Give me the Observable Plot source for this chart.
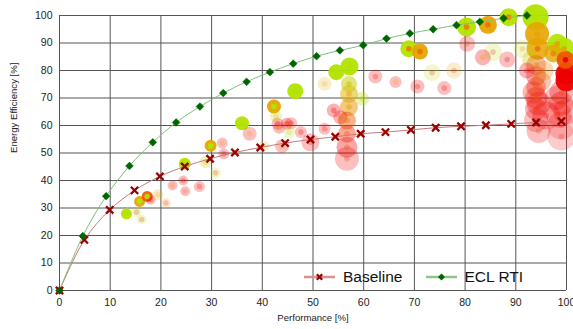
<!DOCTYPE html>
<html>
<head>
<meta charset="utf-8">
<script src="https://cdn.jsdelivr.net/npm/d3@7"></script>
<script src="https://cdn.jsdelivr.net/npm/@observablehq/plot@0.6"></script>
<style>
  html, body { margin: 0; padding: 0; background: #fff; }
  #wrap { position: relative; width: 573px; height: 329px; font-family: "Liberation Sans", Arial, sans-serif; }
  .leg { position: absolute; display: flex; align-items: center; font-size: 15.5px; color: #111; white-space: nowrap; }
</style>
</head>
<body>
<div id="wrap"></div>
<script>
// Baseline series
const baseX = [0, 4.9, 9.9, 14.8, 19.8, 24.7, 29.7, 34.6, 39.6, 44.5, 49.5, 54.4, 59.4, 64.3, 69.3, 74.2, 79.2, 84.1, 89.1, 94.0, 99.0];
const baseY = [0, 18.4, 29.3, 36.4, 41.5, 45.1, 47.9, 50.2, 52.0, 53.6, 54.9, 55.9, 57.0, 57.6, 58.4, 59.2, 59.7, 60.1, 60.6, 61.1, 61.6];
// ECL RTI series
const eclX = [0, 4.6, 9.2, 13.8, 18.4, 23.0, 27.7, 32.3, 36.9, 41.5, 46.1, 50.7, 55.3, 59.9, 64.5, 69.1, 73.7, 78.3, 82.9, 87.6, 92.2];
const eclY = [0, 19.8, 34.3, 45.3, 53.9, 61.1, 66.9, 71.8, 75.9, 79.4, 82.5, 85.2, 87.3, 89.2, 91.6, 93.5, 95.0, 96.5, 97.7, 99.0, 100];

// Bubbles: x, y, size, outer colour value (0 green .. 1 red), inner colour value, opacity
const bubX = [13.2, 15.2, 16.2, 15.8, 17.3, 18.0, 19.4, 21.0, 22.3, 24.4, 24.8, 27.6, 24.7, 29.8, 32.1, 28.8, 30.8, 32.4,
  46.5, 42.3, 36.0, 37.5, 42.7, 43.0, 44.8, 45.7, 43.3, 45.3, 47.6, 52.3, 49.5, 43.9, 40.3, 52.3,
  54.1, 55.4, 57.1, 59.7, 57.1, 57.1, 56.7, 56.7, 56.7, 56.7, 54.6, 57.2, 62.3, 66.3, 70.6, 75.9,
  68.9, 71.1, 80.3, 84.5, 88.6, 80.4, 83.5, 85.5, 88.3, 73.5, 77.8,
  94.0, 94.0, 94.0, 94.0, 94.0, 94.0, 93.0, 91.3, 92.2, 99.0, 99.0, 98.5, 96.0, 99.0,
  94.5, 93.5, 95.0, 94.5, 99.0, 100, 98.0, 95.5,
  93.9, 94.2, 94.3, 98.2, 99.5, 97.4, 99.8, 100, 100];
const bubY = [27.9, 28.5, 25.8, 32.4, 34.2, 33.0, 34.9, 31.8, 38.2, 40.0, 36.1, 37.8, 46.1, 52.6, 53.6, 46.7, 42.8, 49.7,
  72.5, 66.9, 60.8, 57.0, 63.3, 60.6, 60.6, 60.8, 59.2, 57.6, 57.6, 58.8, 53.9, 52.5, 52.5, 75.2,
  65.5, 63.0, 75.1, 69.7, 71.5, 66.7, 61.8, 57.0, 52.1, 47.9, 79.4, 81.5, 77.8, 75.8, 74.2, 73.6,
  87.9, 86.9, 95.8, 96.6, 99.4, 89.7, 84.8, 86.7, 84.0, 79.2, 80.0,
  82.0, 78.0, 74.0, 70.0, 66.0, 62.0, 84.0, 87.9, 80.0, 72.0, 68.0, 64.0, 63.6, 60.0,
  58.0, 72.0, 76.0, 68.0, 56.0, 65.0, 70.0, 80.0,
  99.4, 93.3, 87.9, 89.7, 87.9, 86.2, 83.9, 78.8, 76.4];
const bubS = [5.5, 5, 5, 5.5, 5.5, 5, 5.5, 5, 5, 5, 5, 5.5, 6, 6, 5.5, 6, 5.5, 5.5,
  8, 7, 7, 7, 6, 6, 6, 6, 6, 6, 6, 6, 9, 7, 5.5, 7,
  7, 7, 8, 7, 9, 9, 9, 9, 10.5, 12, 8, 9, 7, 6, 7, 7,
  8.5, 8, 9.5, 9, 9, 8, 8, 9, 8, 8.5, 8,
  10, 10, 10, 11, 11, 12, 9, 9, 8, 12, 12, 13, 14, 14,
  12, 11, 10, 12, 14, 13, 12, 10,
  13, 12, 11, 10, 11, 9, 9, 11, 11];
const bubC = [0, 0, 0, 0.5, 0.75, 1, 0.5, 0.5, 1, 1, 1, 1, 0, 0.5, 1, 0.25, 0, 1,
  0, 0.5, 0, 1, 0.2, 1, 1, 1, 1, 0, 1, 1, 1, 1, 0.5, 0.5,
  1, 1, 0.2, 0.1, 0.4, 0.55, 0.75, 0.9, 1, 1, 0, 0, 1, 1, 1, 1,
  0, 0.5, 0, 0.5, 0, 1, 1, 0.1, 1, 0.1, 0.5,
  0.9, 1, 1, 1, 1, 1, 0.3, 0.1, 1, 1, 1, 1, 1, 1,
  1, 0.9, 0.8, 1, 1, 1, 1, 0.6,
  0, 0.5, 0.5, 0, 0, 0.5, 0.75, 1, 1];
const bubI = [0, 1, 1, 0, 0, 1, 0.5, 1, 0.6, 1, 0.6, 1, 0, 0, 0.5, 0.25, 1, 1,
  0, 0, 0, 0.5, 0.2, 1, 1, 1, 0.6, 0.5, 1, 1, 1, 0.5, 0, 0.5,
  1, 0.6, 0.3, 0.1, 0.5, 0.5, 0.6, 0.7, 0.7, 0.8, 0, 0, 1, 0.5, 1, 1,
  0.6, 0.65, 0.6, 0.65, 0.6, 0.8, 0.5, 1, 1, 1, 1,
  0.7, 0.7, 0.7, 0.7, 0.8, 0.8, 0.5, 0.6, 1, 0.8, 0.8, 0.8, 1, 1,
  0.8, 0.7, 0.6, 0.8, 1, 0.9, 0.8, 0.6,
  0, 0.5, 0.65, 0.5, 0.5, 0.6, 1, 1, 1];
const bubA = [0.95, 0.2, 0.2, 0.95, 0.9, 0.25, 0.2, 0.2, 0.25, 0.25, 0.25, 0.25, 0.95, 0.95, 0.25, 0.25, 0.2, 0.25,
  0.95, 0.95, 0.95, 0.25, 0.25, 0.25, 0.3, 0.25, 0.25, 0.2, 0.25, 0.25, 0.25, 0.25, 0.2, 0.2,
  0.3, 0.3, 0.5, 0.3, 0.5, 0.5, 0.45, 0.4, 0.35, 0.25, 0.95, 0.95, 0.25, 0.25, 0.25, 0.25,
  0.95, 0.95, 0.95, 0.95, 0.95, 0.25, 0.3, 0.2, 0.25, 0.2, 0.2,
  0.3, 0.3, 0.3, 0.3, 0.3, 0.25, 0.3, 0.2, 0.3, 0.3, 0.3, 0.25, 0.25, 0.2,
  0.25, 0.3, 0.3, 0.3, 0.2, 0.25, 0.25, 0.3,
  0.95, 0.9, 0.85, 0.9, 0.9, 0.8, 0.95, 0.95, 0.95];

const ticks = [0, 10, 20, 30, 40, 50, 60, 70, 80, 90, 100];

const baseline = baseX.map((x, i) => ({x, y: baseY[i]}));
const ecl = eclX.map((x, i) => ({x, y: eclY[i]}));
const bubbles = bubX.map((x, i) => ({x, y: bubY[i], s: bubS[i], c: bubC[i], ci: bubI[i], a: bubA[i]}));

const colorScale = d3.scaleLinear().domain([0, 0.5, 0.75, 1]).range(["#b3e300", "#e6a400", "#ee5500", "#ee0000"]);

const chart = Plot.plot({
  width: 573,
  height: 329,
  marginLeft: 59,
  marginRight: 7,
  marginTop: 15,
  marginBottom: 39,
  style: {fontFamily: "Liberation Sans, Arial, sans-serif", fontSize: "10.5px", color: "#222", background: "#fff"},
  x: {domain: [0, 100], ticks, label: null},
  y: {domain: [0, 100], ticks, label: null},
  r: {type: "identity"},
  marks: [
    Plot.gridX(ticks, {stroke: "#555", strokeOpacity: 1, strokeWidth: 1}),
    Plot.gridY(ticks, {stroke: "#555", strokeOpacity: 1, strokeWidth: 1}),
    Plot.axisX({ticks, tickSize: 0, tickPadding: 8, label: null}),
    Plot.axisY({ticks, tickSize: 0, tickPadding: 7, label: null}),
    Plot.dot(bubbles, {x: "x", y: "y", r: "s", fill: d => colorScale(d.c), fillOpacity: "a", stroke: null}),
    Plot.dot(bubbles, {x: "x", y: "y", r: 2.8, fill: d => colorScale(d.ci), fillOpacity: "a", stroke: null}),
    Plot.line(baseline, {x: "x", y: "y", stroke: "#c97a7a", strokeWidth: 1, curve: "catmull-rom"}),
    Plot.line(ecl, {x: "x", y: "y", stroke: "#80bf80", strokeWidth: 1, curve: "catmull-rom"}),
    Plot.dot(baseline, {x: "x", y: "y", symbol: "times", r: 3.4, stroke: "#990000", strokeWidth: 2.3}),
    Plot.dot(ecl, {x: "x", y: "y", symbol: "diamond2", r: 3.5, fill: "#006400", stroke: "#006400", strokeWidth: 0.5}),
    Plot.text(["Performance [%]"], {frameAnchor: "bottom", dy: 30, fontSize: 9.6, fill: "#222"}),
    Plot.text(["Energy Efficiency [%]"], {frameAnchor: "left", dx: -46, rotate: -90, fontSize: 9.6, fill: "#222"})
  ]
});

const wrap = document.getElementById("wrap");
wrap.appendChild(chart);

function legendItem(left, lineColor, markerSvg, label) {
  const d = document.createElement("div");
  d.className = "leg";
  d.style.left = left + "px";
  d.style.top = "267px";
  d.style.height = "20px";
  d.innerHTML = `<svg width="31" height="12" style="margin-right:8px"><line x1="0" x2="31" y1="6" y2="6" stroke="${lineColor}" stroke-width="2.5"/>${markerSvg}</svg><span>${label}</span>`;
  wrap.appendChild(d);
}
legendItem(304, "#d39393", `<path d="M12.8,3.3L18.2,8.7M18.2,3.3L12.8,8.7" stroke="#990000" stroke-width="2.2"/>`, "Baseline");
legendItem(425.5, "#8cc68c", `<path d="M15.5,2.5L19,6L15.5,9.5L12,6Z" fill="#006400"/>`, "ECL RTI");
</script>
</body>
</html>
